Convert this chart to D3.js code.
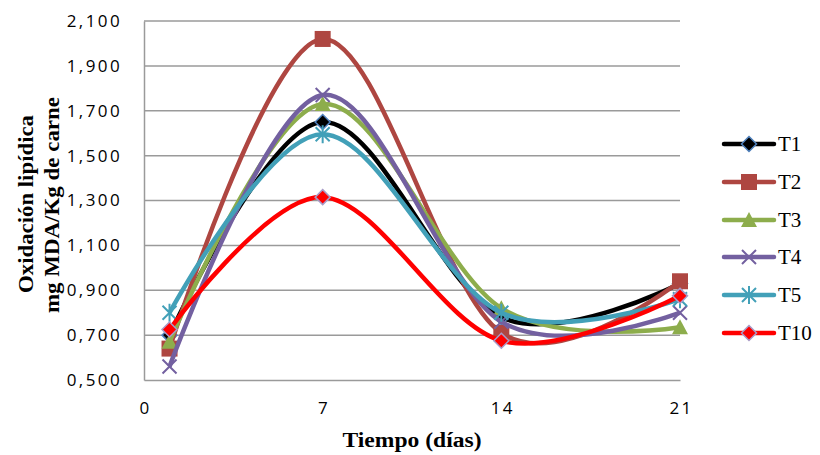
<!DOCTYPE html>
<html><head><meta charset="utf-8">
<script src="https://cdn.jsdelivr.net/npm/d3@7"></script>
<style>body{margin:0;background:#fff}</style>
</head><body>
<svg id="c" width="820" height="455"></svg>
<script>
const days = [1, 7, 14, 21];
const seriesNames = ["T1", "T2", "T3", "T4", "T5", "T10"];
const T1 = [0.70, 1.65, 0.78, 0.93];
const T2 = [0.64, 2.02, 0.71, 0.94];
const T3 = [0.67, 1.73, 0.82, 0.735];
const T4 = [0.56, 1.77, 0.76, 0.80];
const T5 = [0.80, 1.595, 0.80, 0.86];
const T10 = [0.725, 1.315, 0.675, 0.875];
const seriesValues = [T1, T2, T3, T4, T5, T10];
const xTicks = [0, 7, 14, 21];
const yTicks = [0.5, 0.7, 0.9, 1.1, 1.3, 1.5, 1.7, 1.9, 2.1];

const colors = ["#000000", "#AE4641", "#8DAD4C", "#7360A0", "#42A0B8", "#FF0000"];
const markers = ["diamond", "square", "triangle", "x", "star", "diamond"];
const markerStroke = ["#4F81BD", "#AE4641", "#8DAD4C", "#7360A0", "#42A0B8", "#A89CC8"];

const svg = d3.select("#c");
const x = d3.scaleLinear().domain([0, 21]).range([144, 680]);
const y = d3.scaleLinear().domain([0.5, 2.1]).range([380, 21]);
const fmt = v => d3.format(".3f")(v).replace(".", ",");

// gridlines
svg.append("g").selectAll("line").data(yTicks.slice(1)).join("line")
  .attr("x1", 144).attr("x2", 680)
  .attr("y1", d => y(d)).attr("y2", d => y(d))
  .attr("stroke", "#9a9a9a").attr("stroke-width", 1.5);

// axes
const yAxis = svg.append("g").attr("transform", "translate(144,0)")
  .call(d3.axisLeft(y).tickValues(yTicks).tickFormat(fmt).tickSize(0).tickPadding(22));
const xAxis = svg.append("g").attr("transform", "translate(0,380)")
  .call(d3.axisBottom(x).tickValues(xTicks).tickFormat(d => d).tickSize(0).tickPadding(22));
[yAxis, xAxis].forEach(a => {
  a.select(".domain").attr("stroke", "#9a9a9a").attr("stroke-width", 1.5);
  a.selectAll("text").attr("font-family", "'Open Sans', sans-serif").attr("font-size", 17)
    .attr("letter-spacing", "2.4px").attr("fill", "#000");
});
xAxis.selectAll("text").attr("dx", "1px");

// titles
svg.append("text").attr("x", 412).attr("y", 447).attr("text-anchor", "middle")
  .attr("font-family", "'Liberation Serif', serif").attr("font-weight", "bold").attr("font-size", 20)
  .attr("textLength", 139).attr("lengthAdjust", "spacingAndGlyphs")
  .text("Tiempo (días)");
svg.append("text").attr("transform", "translate(33,204) rotate(-90)").attr("text-anchor", "middle")
  .attr("font-family", "'Liberation Serif', serif").attr("font-weight", "bold").attr("font-size", 21)
  .attr("textLength", 178).attr("lengthAdjust", "spacingAndGlyphs")
  .text("Oxidación lipídica");
svg.append("text").attr("transform", "translate(59,205) rotate(-90)").attr("text-anchor", "middle")
  .attr("font-family", "'Liberation Serif', serif").attr("font-weight", "bold").attr("font-size", 21)
  .attr("textLength", 216).attr("lengthAdjust", "spacingAndGlyphs")
  .text("mg MDA/Kg de carne");

function drawMarker(g, type, i, cx, cy) {
  const c = colors[i], s = markerStroke[i];
  if (type === "diamond") {
    const r = 7.5;
    g.append("path").attr("d", `M${cx},${cy - r}L${cx + r},${cy}L${cx},${cy + r}L${cx - r},${cy}Z`)
      .attr("fill", c).attr("stroke", s).attr("stroke-width", 1.5);
  } else if (type === "square") {
    g.append("rect").attr("x", cx - 8).attr("y", cy - 8).attr("width", 16).attr("height", 16).attr("fill", c);
  } else if (type === "triangle") {
    g.append("path").attr("d", `M${cx},${cy - 8}L${cx + 8},${cy + 7}L${cx - 8},${cy + 7}Z`).attr("fill", c);
  } else if (type === "x") {
    const r = 7;
    g.append("path").attr("d", `M${cx - r},${cy - r}L${cx + r},${cy + r}M${cx + r},${cy - r}L${cx - r},${cy + r}`)
      .attr("stroke", c).attr("stroke-width", 2).attr("fill", "none");
  } else if (type === "star") {
    const r = 7;
    g.append("path").attr("d", `M${cx - r},${cy - r}L${cx + r},${cy + r}M${cx + r},${cy - r}L${cx - r},${cy + r}M${cx},${cy - r - 2}L${cx},${cy + r + 2}`)
      .attr("stroke", c).attr("stroke-width", 2).attr("fill", "none");
  }
}

const line = d3.line().x(d => x(d[0])).y(d => y(d[1])).curve(d3.curveCardinal.tension(0));
seriesValues.forEach((vals, i) => {
  const g = svg.append("g");
  const pts = days.map((d, k) => [d, vals[k]]);
  g.append("path").attr("d", line(pts)).attr("fill", "none")
    .attr("stroke", colors[i]).attr("stroke-width", 4.5);
  pts.forEach(p => drawMarker(g, markers[i], i, x(p[0]), y(p[1])));
});

// legend
const legY = [144, 182, 220, 257, 295, 333];
seriesNames.forEach((n, i) => {
  const g = svg.append("g");
  g.append("line").attr("x1", 724).attr("x2", 774).attr("y1", legY[i]).attr("y2", legY[i])
    .attr("stroke", colors[i]).attr("stroke-width", 4.5).attr("stroke-linecap", "round");
  drawMarker(g, markers[i], i, 749, legY[i]);
  g.append("text").attr("x", 778).attr("y", legY[i] + 7)
    .attr("font-family", "'Liberation Serif', serif").attr("font-size", 21).text(n);
});
</script>
</body></html>
